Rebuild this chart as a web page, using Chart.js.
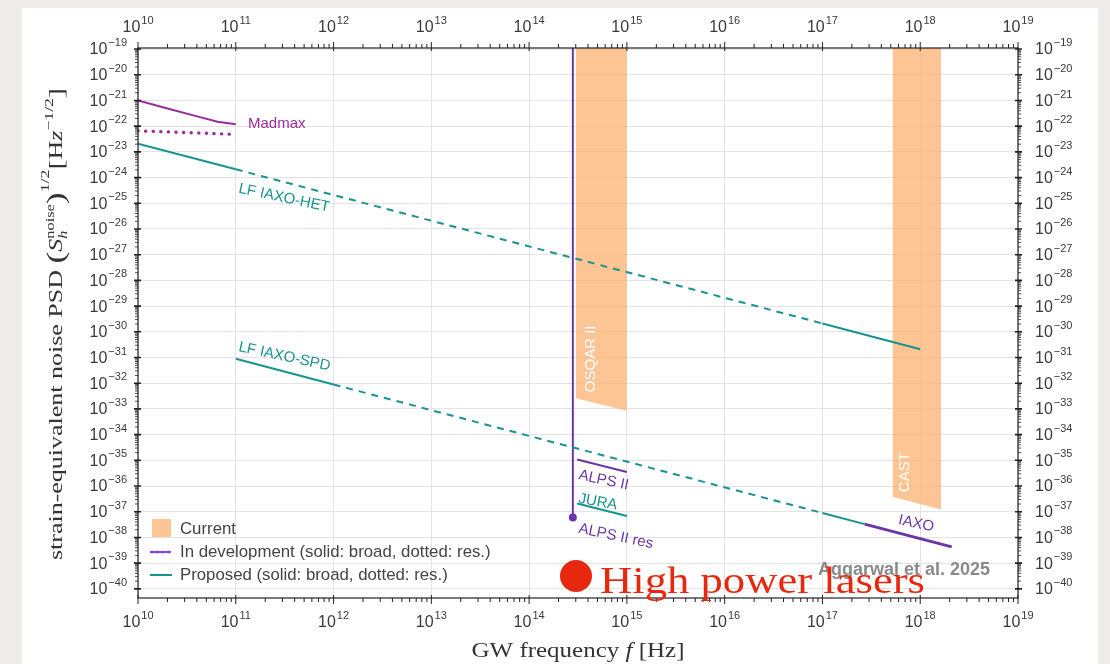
<!DOCTYPE html>
<html>
<head>
<meta charset="utf-8">
<style>
  html, body { margin: 0; padding: 0; background: #eeedea; }
  #wrap { position: relative; width: 1110px; height: 664px; }
</style>
</head>
<body>
<div id="wrap"><canvas id="psdChart" width="1110" height="664"></canvas></div>
<script src="https://cdn.jsdelivr.net/npm/chart.js@4.4.1/dist/chart.umd.min.js"></script>
<script>
// ticks (powers of ten)
const xTickExps = [10, 11, 12, 13, 14, 15, 16, 17, 18, 19];
const yTickExps = [-19, -20, -21, -22, -23, -24, -25, -26, -27, -28, -29, -30,
                   -31, -32, -33, -34, -35, -36, -37, -38, -39, -40];
const X_MIN = 1e10, X_MAX = 1e19;
const Y_MIN = 4.4e-41, Y_MAX = 1.1e-19;

// GW frequency [Hz] / strain noise [Hz^-1/2]
const madmaxBroadF = [1e10, 2.0e10, 4.4e10, 6.5e10, 1e11];
const madmaxBroadS = [1.0e-21, 4.9e-22, 2.2e-22, 1.5e-22, 1.2e-22];
const madmaxResF = [1e10, 1e11];
const madmaxResS = [6.6e-23, 4.8e-23];

const hetLowF = [1e10, 1e11];
const hetLowS = [2.1e-23, 2.1e-24];
const hetGapF = [1e11, 1e17];
const hetGapS = [2.1e-24, 2.1e-30];
const hetHighF = [1e17, 1e18];
const hetHighS = [2.1e-30, 2.1e-31];

const spdLowF = [1e11, 1e12];
const spdLowS = [8.9e-32, 8.9e-33];
const spdGapF = [1e12, 1e17];
const spdGapS = [8.9e-33, 8.9e-38];
const spdHighF = [1e17, 2.7e17];
const spdHighS = [8.9e-38, 3.3e-38];
const iaxoF = [2.7e17, 2.1e18];
const iaxoS = [3.3e-38, 4.3e-39];

const alpsResF = [2.8e14, 2.8e14];
const alpsResS = [1e-18, 6.0e-38];
const alpsF = [3.1e14, 1.0e15];
const alpsS = [1.07e-35, 3.5e-36];
const juraF = [3.1e14, 1.0e15];
const juraS = [2.1e-37, 6.8e-38];

// current limits (bands, filled up to the top)
const osqarF = [3.0e14, 1.0e15];
const osqarS = [2.6e-33, 8.5e-34];
const castF = [5.2e17, 1.63e18];
const castS = [3.8e-37, 1.23e-37];

const C_MADMAX = '#9a2b9c';
const C_DEV = '#6b36a8';
const C_PROP = '#18948f';
const C_BAND = 'rgba(252, 178, 112, 0.75)';
const C_TEXT = '#3a3a3a';

function series(fs, ss) {
    return fs.map((f, i) => ({x: f, y: ss[i]}));
}

function lineSet(fs, ss, color, extra) {
    return Object.assign({
        data: series(fs, ss),
        showLine: true,
        borderColor: color,
        backgroundColor: color,
        borderWidth: 2,
        pointRadius: 0,
        fill: false,
        order: 1
    }, extra || {});
}

function bandSet(fs, ss) {
    return {
        data: series(fs, ss),
        showLine: true,
        borderColor: 'rgba(0,0,0,0)',
        backgroundColor: C_BAND,
        borderWidth: 1,
        pointRadius: 0,
        fill: 'end',
        order: 5
    };
}

const datasets = [
    lineSet(madmaxBroadF, madmaxBroadS, C_MADMAX),
    lineSet(madmaxResF, madmaxResS, C_MADMAX, {borderWidth: 3.4, borderDash: [0.1, 7.5], borderCapStyle: 'round'}),
    lineSet(hetLowF, hetLowS, C_PROP),
    lineSet(hetGapF, hetGapS, C_PROP, {borderDash: [7, 6]}),
    lineSet(hetHighF, hetHighS, C_PROP),
    lineSet(spdLowF, spdLowS, C_PROP),
    lineSet(spdGapF, spdGapS, C_PROP, {borderDash: [7, 6]}),
    lineSet(spdHighF, spdHighS, C_PROP),
    lineSet(iaxoF, iaxoS, C_DEV, {borderWidth: 3}),
    lineSet(alpsResF, alpsResS, C_DEV, {pointRadius: [0, 3]}),
    lineSet(alpsF, alpsS, C_DEV),
    lineSet(juraF, juraS, C_PROP),
    bandSet(osqarF, osqarS),
    bandSet(castF, castS)
];

// ---- helpers for drawing text
function drawPow(c, exp, x, y, align) {
    const base = '16px "Liberation Sans", Arial, sans-serif';
    const sup = '11px "Liberation Sans", Arial, sans-serif';
    const e = String(exp).replace('-', '\u2212');
    c.font = base;
    const w1 = c.measureText('10').width;
    c.font = sup;
    const w2 = c.measureText(e).width + 1;
    let x0 = x;
    if (align === 'center') x0 = x - (w1 + w2) / 2;
    if (align === 'right') x0 = x - (w1 + w2);
    c.fillStyle = C_TEXT;
    c.textAlign = 'left';
    c.textBaseline = 'middle';
    c.font = base;
    c.fillText('10', x0, y);
    c.font = sup;
    c.fillText(e, x0 + w1 + 1, y - 7);
}

// runs: [text, font, dy, fixed advance]
function measureRuns(c, runs) {
    let w = 0;
    runs.forEach(r => {
        c.font = r[1];
        w += r[3] !== undefined ? r[3] : c.measureText(r[0]).width;
    });
    return w;
}

function drawRuns(c, runs) {
    let x = 0;
    runs.forEach(r => {
        c.font = r[1];
        c.fillText(r[0], x, r[2]);
        x += r[3] !== undefined ? r[3] : c.measureText(r[0]).width;
    });
}

const SERIF = '"Liberation Serif", "DejaVu Serif", serif';
const SANS = '"Liberation Sans", Arial, sans-serif';

const framePlugin = {
    id: 'frame',
    beforeDraw(chart) {
        const c = chart.ctx;
        c.save();
        c.fillStyle = '#eeedea';
        c.fillRect(0, 0, chart.width, chart.height);
        c.fillStyle = '#ffffff';
        c.fillRect(22, 8, 1076, chart.height - 8);
        c.restore();
    },
    afterDraw(chart) {
        const c = chart.ctx;
        const xs = chart.scales.x, ys = chart.scales.y;
        const a = chart.chartArea;
        const P = (lf, ls) => [xs.getPixelForValue(Math.pow(10, lf)), ys.getPixelForValue(Math.pow(10, ls))];
        c.save();

        // spines
        c.strokeStyle = '#222';
        c.lineWidth = 1.2;
        c.strokeRect(a.left, a.top, a.right - a.left, a.bottom - a.top);

        // x ticks (top and bottom)
        c.lineWidth = 1;
        xTickExps.forEach((e, i) => {
            const px = xs.getPixelForValue(Math.pow(10, e));
            c.beginPath();
            c.moveTo(px, a.top - 6); c.lineTo(px, a.top + 3);
            c.moveTo(px, a.bottom - 3); c.lineTo(px, a.bottom + 6);
            c.stroke();
            if (i < xTickExps.length - 1) {
                for (let k = 2; k <= 9; k++) {
                    const pm = xs.getPixelForValue(k * Math.pow(10, e));
                    c.beginPath();
                    c.moveTo(pm, a.top - 4); c.lineTo(pm, a.top);
                    c.moveTo(pm, a.bottom); c.lineTo(pm, a.bottom + 4);
                    c.stroke();
                }
            }
        });

        // y ticks (left and right)
        yTickExps.forEach(e => {
            const py = ys.getPixelForValue(Math.pow(10, e));
            c.lineWidth = 1.6;
            c.beginPath();
            c.moveTo(a.left - 4, py); c.lineTo(a.left + 3, py);
            c.moveTo(a.right - 3, py); c.lineTo(a.right + 4, py);
            c.stroke();
            c.lineWidth = 0.8;
            for (let k = 2; k <= 9; k++) {
                const v = k * Math.pow(10, e);
                if (v > Y_MAX) continue;
                const pm = ys.getPixelForValue(v);
                c.beginPath();
                c.moveTo(a.left - 3, pm); c.lineTo(a.left, pm);
                c.moveTo(a.right, pm); c.lineTo(a.right + 3, pm);
                c.stroke();
            }
        });

        // tick labels
        xTickExps.forEach(e => {
            const px = xs.getPixelForValue(Math.pow(10, e));
            drawPow(c, e, px, a.top - 20, 'center');
            drawPow(c, e, px, a.bottom + 25, 'center');
        });
        yTickExps.forEach(e => {
            const py = ys.getPixelForValue(Math.pow(10, e));
            drawPow(c, e, a.left - 11, py + 1, 'right');
            drawPow(c, e, a.right + 17, py + 1, 'left');
        });

        // annotations on the curves
        const notes = [
            ['Madmax', 11.125, -21.92, C_MADMAX, 0, 'middle'],
            ['LF IAXO-HET', 11.022, -24.58, C_PROP, 12, 'alphabetic'],
            ['LF IAXO-SPD', 11.022, -30.75, C_PROP, 12, 'alphabetic'],
            ['ALPS II', 14.499, -35.73, C_DEV, 12, 'alphabetic'],
            ['JURA', 14.499, -36.65, C_PROP, 10, 'alphabetic'],
            ['ALPS II res', 14.499, -37.81, C_DEV, 12, 'alphabetic'],
            ['IAXO', 17.771, -37.48, C_DEV, 12, 'alphabetic'],
            ['OSQAR II', 14.632, -32.35, '#ffffff', -90, 'middle'],
            ['CAST', 17.843, -36.24, '#ffffff', -90, 'middle']
        ];
        notes.forEach(n => {
            const p = P(n[1], n[2]);
            c.save();
            c.translate(p[0], p[1]);
            c.rotate(n[4] * Math.PI / 180);
            c.font = '15px ' + SANS;
            c.fillStyle = n[3];
            c.textAlign = 'left';
            c.textBaseline = n[5];
            c.fillText(n[0], 0, 0);
            c.restore();
        });

        // legend
        c.fillStyle = C_BAND;
        c.fillRect(152, 519, 19, 18);
        c.lineWidth = 2;
        c.strokeStyle = '#8049dd';
        c.beginPath(); c.moveTo(150, 552); c.lineTo(171, 552); c.stroke();
        c.fillStyle = '#8049dd';
        [152, 157.5, 163, 168.5].forEach(dx => {
            c.beginPath(); c.arc(dx, 552, 1.5, 0, Math.PI * 2); c.fill();
        });
        c.strokeStyle = C_PROP;
        c.beginPath(); c.moveTo(150, 575); c.lineTo(172, 575); c.stroke();
        c.font = '16.8px ' + SANS;
        c.fillStyle = '#444';
        c.textAlign = 'left';
        c.textBaseline = 'middle';
        c.fillText('Current', 180, 529);
        c.fillText('In development (solid: broad, dotted: res.)', 180, 552);
        c.fillText('Proposed (solid: broad, dotted: res.)', 180, 575);

        // credit
        c.font = 'bold 18px ' + SANS;
        c.fillStyle = '#8a8a8a';
        c.fillText('Aggarwal et al. 2025', 818, 570);

        // overlay note
        c.fillStyle = '#e8280e';
        c.beginPath(); c.arc(576, 576, 16, 0, Math.PI * 2); c.fill();
        c.font = '38px ' + SERIF;
        c.textBaseline = 'alphabetic';
        const hw = c.measureText('High power lasers').width;
        c.save();
        c.translate(600, 593);
        c.scale(325 / hw, 1);
        c.fillText('High power lasers', 0, 0);
        c.restore();

        // x title
        c.fillStyle = '#333';
        const xRuns = [
            ['GW frequency ', '20px ' + SERIF, 0],
            ['f', 'italic 20px ' + SERIF, 0],
            [' [Hz]', '20px ' + SERIF, 0]
        ];
        const xw = measureRuns(c, xRuns);
        c.save();
        c.translate((a.left + a.right) / 2 - 213 / 2, 657);
        c.scale(213 / xw, 1);
        drawRuns(c, xRuns);
        c.restore();

        // y title (rotated)
        c.font = '12px ' + SERIF;
        const wNoise = c.measureText('noise').width;
        const yRuns = [
            ['strain-equivalent noise PSD ', '19px ' + SERIF, 0],
            ['(', '26px ' + SERIF, 2],
            ['S', 'italic 19px ' + SERIF, 0],
            ['h', 'italic 12px ' + SERIF, 5, 0],
            ['noise', '12px ' + SERIF, -8, wNoise],
            [')', '26px ' + SERIF, 2],
            ['1/2', '13px ' + SERIF, -13],
            ['[', '22px ' + SERIF, 1],
            ['H', '19px ' + SERIF, 0],
            ['z', 'italic 19px ' + SERIF, 0],
            ['\u22121/2', '13px ' + SERIF, -9],
            [']', '22px ' + SERIF, 1]
        ];
        const yw = measureRuns(c, yRuns);
        c.save();
        c.translate(62, 560);
        c.rotate(-Math.PI / 2);
        c.scale(472 / yw, 1);
        c.textAlign = 'left';
        c.textBaseline = 'alphabetic';
        drawRuns(c, yRuns);
        c.restore();

        c.restore();
    }
};

const ctx = document.getElementById('psdChart').getContext('2d');
const decades = exps => scale => { scale.ticks = exps.map(e => ({value: Math.pow(10, e)})); };

new Chart(ctx, {
    type: 'scatter',
    data: {datasets: datasets},
    options: {
        responsive: false,
        animation: false,
        layout: {padding: 0},
        plugins: {legend: {display: false}, tooltip: {enabled: false}},
        scales: {
            x: {
                type: 'logarithmic', position: 'bottom', min: X_MIN, max: X_MAX,
                afterBuildTicks: decades(xTickExps),
                afterFit: s => { s.height = 66; },
                ticks: {display: false}, border: {display: false},
                grid: {color: '#e3e3e3', lineWidth: 1, drawTicks: false}
            },
            x2: {
                type: 'logarithmic', position: 'top', min: X_MIN, max: X_MAX,
                afterBuildTicks: decades(xTickExps),
                afterFit: s => { s.height = 48; },
                ticks: {display: false}, border: {display: false}, grid: {display: false}
            },
            y: {
                type: 'logarithmic', position: 'left', min: Y_MIN, max: Y_MAX,
                afterBuildTicks: decades(yTickExps),
                afterFit: s => { s.width = 138; },
                ticks: {display: false}, border: {display: false},
                grid: {color: '#e3e3e3', lineWidth: 1, drawTicks: false}
            },
            y2: {
                type: 'logarithmic', position: 'right', min: Y_MIN, max: Y_MAX,
                afterBuildTicks: decades(yTickExps),
                afterFit: s => { s.width = 92; },
                ticks: {display: false}, border: {display: false}, grid: {display: false}
            }
        }
    },
    plugins: [framePlugin]
});
</script>
</body>
</html>
